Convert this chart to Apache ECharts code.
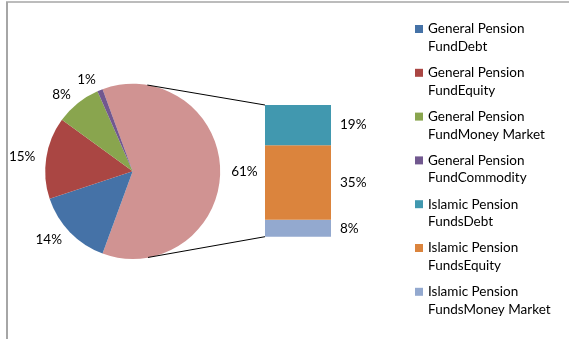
<!DOCTYPE html>
<html>
<head>
<meta charset="utf-8">
<script src="https://cdn.jsdelivr.net/npm/echarts@6/dist/echarts.min.js"></script>
<style>
  html, body { margin: 0; padding: 0; background: #fff; }
  #chart { width: 569px; height: 339px; }
</style>
</head>
<body>
<div id="chart"></div>
<script>
// Pension fund allocation: general funds as pie slices, Islamic funds split out into a stacked bar
const pieNames = ['General Pension FundDebt', 'General Pension FundEquity', 'General Pension FundMoney Market', 'General Pension FundCommodity'];
const pieValues = [14.3, 15.1, 8.4, 1.0];
const barNames = ['Islamic Pension FundsDebt', 'Islamic Pension FundsEquity', 'Islamic Pension FundsMoney Market'];
const barValues = [18.7, 34.6, 7.9];
const otherName = 'Islamic Pension Funds';

const pieColors = ['#4572A7', '#AA4643', '#89A54E', '#71588F'];
const barColors = ['#4198AF', '#DB843D', '#93A9CF'];
const otherColor = '#D09392';

const FONT = 'Lato, "Open Sans", sans-serif';
const FONT_SIZE = 13.5;

const otherSum = barValues.reduce((a, b) => a + b, 0);
const total = pieValues.reduce((a, b) => a + b, 0) + otherSum;
const pct = v => Math.round(v / total * 100) + '%';

// layout
const pieCenter = [132.7, 171.3];
const pieRadius = 87.5;
const barGrid = { left: 265, top: 105, width: 66, height: 131.7 };

const pieData = [{ name: otherName, value: otherSum, itemStyle: { color: otherColor } }]
  .concat(pieNames.map((n, i) => ({ name: n, value: pieValues[i], itemStyle: { color: pieColors[i] } })));

// stacked bottom-to-top: money market, equity, debt
const barSeries = barNames.map((n, i) => ({
  name: n,
  type: 'bar',
  stack: 'islamic',
  barWidth: '100%',
  data: [barValues[i]],
  itemStyle: { color: barColors[i] },
  label: {
    show: true,
    position: 'right',
    distance: 9,
    formatter: p => pct(p.value),
    color: '#000',
    fontFamily: FONT,
    fontSize: FONT_SIZE
  },
  emphasis: { disabled: true },
  silent: true
})).reverse();

const chart = echarts.init(document.getElementById('chart'), null, { renderer: 'canvas' });

chart.setOption({
  animation: false,
  backgroundColor: '#fff',
  textStyle: { fontFamily: FONT },
  legend: {
    orient: 'vertical',
    left: 415,
    top: 2.45,
    padding: 0,
    itemWidth: 8,
    itemHeight: 8,
    itemGap: -9.3,
    selectedMode: false,
    icon: 'rect',
    data: pieNames.concat(barNames),
    formatter: name => '\n' + name.replace(' Fund', '\nFund'),
    textStyle: { color: '#000', fontFamily: FONT, fontSize: FONT_SIZE, lineHeight: 17.7 }
  },
  grid: Object.assign({ containLabel: false }, barGrid),
  xAxis: { type: 'category', data: ['Islamic'], show: false, boundaryGap: true },
  yAxis: { type: 'value', min: 0, max: otherSum, show: false },
  series: [{
    type: 'pie',
    center: pieCenter,
    radius: pieRadius,
    startAngle: otherSum / total * 180,
    clockwise: true,
    avoidLabelOverlap: false,
    data: pieData,
    label: {
      show: true,
      position: 'outside',
      distanceToLabelLine: 0,
      formatter: p => pct(p.value),
      color: '#000',
      fontFamily: FONT,
      fontSize: FONT_SIZE
    },
    labelLine: { show: false, length: 11, length2: 0 },
    emphasis: { disabled: true },
    silent: true
  }].concat(barSeries)
});

// connector lines: tangents from the bar's left corners to the pie rim
function tangentPoint(px, py, upper) {
  const [cx, cy] = pieCenter;
  const dx = px - cx, dy = cy - py;
  const d = Math.hypot(dx, dy);
  const base = Math.atan2(dy, dx);
  const off = Math.acos(pieRadius / d);
  const a = upper ? base + off : base - off;
  return [cx + pieRadius * Math.cos(a), cy - pieRadius * Math.sin(a)];
}
const topPx = chart.convertToPixel({ gridIndex: 0 }, [0, otherSum]);
const botPx = chart.convertToPixel({ gridIndex: 0 }, [0, 0]);
const barLeft = topPx[0] - barGrid.width / 2;
const tTop = tangentPoint(barLeft, topPx[1], true);
const tBot = tangentPoint(barLeft, botPx[1], false);

chart.setOption({
  graphic: [
    { type: 'line', shape: { x1: tTop[0], y1: tTop[1], x2: barLeft, y2: topPx[1] }, style: { stroke: '#000', lineWidth: 1 }, silent: true, z: 10 },
    { type: 'line', shape: { x1: tBot[0], y1: tBot[1], x2: barLeft, y2: botPx[1] }, style: { stroke: '#000', lineWidth: 1 }, silent: true, z: 10 },
    { type: 'line', shape: { x1: 7, y1: 2, x2: 7, y2: 339 }, style: { stroke: '#a6a6a6', lineWidth: 2 }, silent: true },
    { type: 'line', shape: { x1: 6, y1: 2, x2: 569, y2: 2 }, style: { stroke: '#a6a6a6', lineWidth: 1.5 }, silent: true }
  ]
});
</script>
</body>
</html>
